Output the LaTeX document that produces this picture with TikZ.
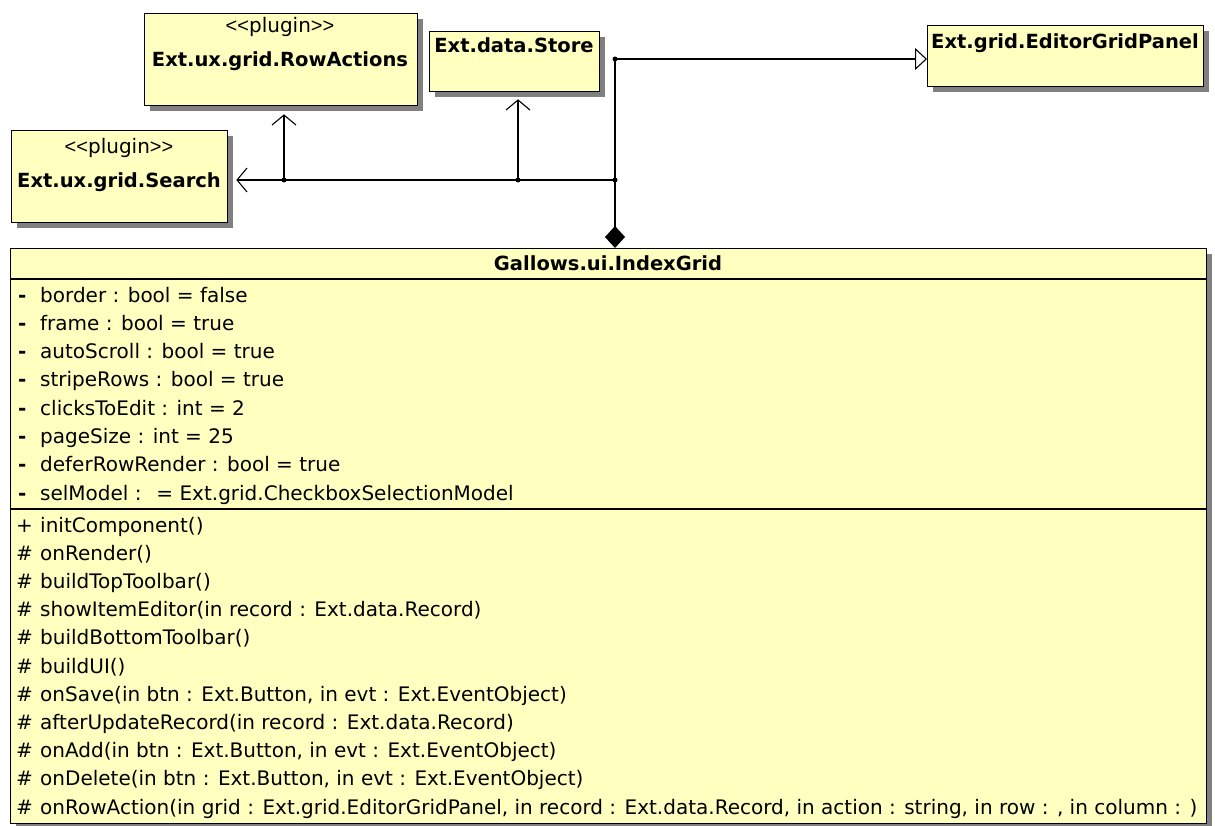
\documentclass[tikz,border=0pt]{standalone}
\usepackage{fontspec}
\setmainfont{DejaVu Sans}
\newfontfamily\ltfont{Liberation Sans}
\usetikzlibrary{arrows.meta,shadows}
\definecolor{boxfill}{RGB}{255,255,192}
\definecolor{shade}{RGB}{128,128,128}
\newcommand{\plugintag}{{\ltfont <{}<}plugin{\ltfont >{}>}}
\begin{document}
\begin{tikzpicture}[x=1pt,y=-1pt,
  cls/.style={draw=black, line width=1.3pt, fill=boxfill, rectangle, inner sep=0pt, anchor=north west,
    general shadow={fill=shade, shadow xshift=5pt, shadow yshift=-5pt}},
  txt/.style={font=\fontsize{20}{22}\selectfont, inner sep=0pt, text=black},
  btxt/.style={font=\fontsize{19.5}{22}\selectfont\bfseries, inner sep=0pt, text=black},
  conn/.style={draw=black, line width=1.3pt},
  dot/.style={fill=black},
  openv/.style={-{Straight Barb[length=10pt,width=24pt,line width=1.1pt]}},
  gen/.style={-{Triangle[open,length=12pt,width=22pt,fill=white,line width=1.1pt]}}
]
\useasboundingbox (0,0) rectangle (1215,826);

% classes
\node[cls, minimum width=273pt, minimum height=92pt] (ra) at (144,13) {};
\node[txt] (rast) at (280,27) {\plugintag};
\node[btxt] (raname) at (280,61) {Ext.ux.grid.RowActions};

\node[cls, minimum width=170pt, minimum height=60pt] (st) at (429,31) {};
\node[btxt] (stname) at (514,45) {Ext.data.Store};

\node[cls, minimum width=216pt, minimum height=92pt] (se) at (11,130) {};
\node[txt] (sest) at (119,148) {\plugintag};
\node[btxt] (sename) at (119,182) {Ext.ux.grid.Search};

\node[cls, minimum width=276pt, minimum height=61pt] (egp) at (927,25) {};
\node[btxt] (egpname) at (1065,43) {Ext.grid.EditorGridPanel};

\node[cls, minimum width=1196pt, minimum height=575pt] (main) at (10,248) {};
\coordinate (h1) at (10,279);
\coordinate (h2) at (10,509);
\draw[conn] (h1) -- (h1 -| main.east);
\draw[conn] (h2) -- (h2 -| main.east);
\node[btxt] (title) at (608,263) {Gallows.ui.IndexGrid};

\foreach \t [count=\i from 0] in {border : bool = false, frame : bool = true, autoScroll : bool = true,
  stripeRows : bool = true, clicksToEdit : int = 2, pageSize : int = 25, deferRowRender : bool = true,
  {selModel :~ = Ext.grid.CheckboxSelectionModel}} {
  \node[txt, anchor=base west] (av\i) at (18,302+28.3*\i) {\bfseries -};
  \node[txt, anchor=base west] (a\i) at (40,302+28.3*\i) {\t};
}
\node[txt, anchor=base west] (mv0) at (16,532) {+};
\node[txt, anchor=base west] (m0) at (40,532) {initComponent()};
\foreach \t [count=\i from 1] in {onRender(), buildTopToolbar(), {showItemEditor(in record : Ext.data.Record)},
  buildBottomToolbar(), buildUI(), {onSave(in btn : Ext.Button, in evt : Ext.EventObject)},
  {afterUpdateRecord(in record : Ext.data.Record)}, {onAdd(in btn : Ext.Button, in evt : Ext.EventObject)},
  {onDelete(in btn : Ext.Button, in evt : Ext.EventObject)},
  {onRowAction(in grid : Ext.grid.EditorGridPanel, in record : Ext.data.Record, in action : string, in row : , in column : )}} {
  \node[txt, anchor=base west] (mv\i) at (16,532+28.2*\i) {\#};
  \node[txt, anchor=base west] (m\i) at (40,532+28.2*\i) {\t};
}

% connectors
\coordinate (jtop) at (615,59);
\coordinate (jmid) at (615,180);
\coordinate (jra) at (284,180);
\coordinate (jst) at (518,180);
\draw[conn, {Diamond[length=22pt,width=20pt]}-] (jtop |- main.north) -- (jtop);
\draw[conn, gen] (jtop) -- (egp.west |- jtop);
\draw[conn, openv, shorten >=8pt] (jmid) -- (se.east |- jmid);
\draw[conn, openv, shorten >=8pt] (jra) -- (jra |- ra.south);
\draw[conn, openv, shorten >=7pt] (jst) -- (jst |- st.south);
\foreach \c in {jtop,jmid,jra,jst} \fill[dot] (\c) circle (2.5pt);
\end{tikzpicture}
\end{document}
